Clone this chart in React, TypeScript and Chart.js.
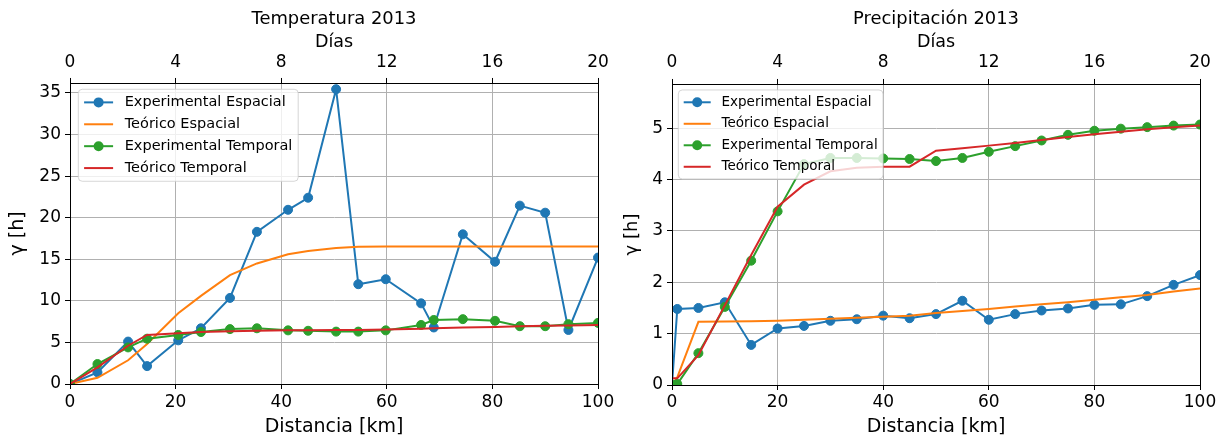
import React, { useEffect, useRef } from 'react';
import { Chart, registerables } from 'chart.js';

Chart.register(...registerables);

const FONT = "'DejaVu Sans', sans-serif";
const C_BLUE = '#1f77b4';
const C_ORANGE = '#ff7f0e';
const C_GREEN = '#2ca02c';
const C_RED = '#d62728';

const seriesLabels = ['Experimental Espacial', 'Teórico Espacial', 'Experimental Temporal', 'Teórico Temporal'];

const distTicks = [0, 20, 40, 60, 80, 100];
const dayTicks = [0, 4, 8, 12, 16, 20];
const tempYTicks = [0, 5, 10, 15, 20, 25, 30, 35];
const precYTicks = [0, 1, 2, 3, 4, 5];

// Temperatura 2013
const tempDist = [0, 5.2, 11, 14.6, 20.5, 24.8, 30.3, 35.4, 41.3, 45.1, 50.4, 54.6, 59.8, 66.5, 68.9, 74.4, 80.5, 85.2, 90, 94.4, 100];
const tempExpEsp = [0, 1.4, 5.1, 2.15, 5.25, 6.7, 10.35, 18.3, 20.95, 22.4, 35.45, 12.0, 12.6, 9.7, 6.8, 18.0, 14.7, 21.45, 20.6, 6.5, 15.2];
const tempTeoEsp = [0, 0.75, 2.85, 4.8, 8.5, 10.6, 13.1, 14.5, 15.6, 16.0, 16.35, 16.5, 16.55, 16.55, 16.55, 16.55, 16.55, 16.55, 16.55, 16.55, 16.55];
const tempExpTemp = [0, 2.4, 4.4, 5.45, 5.9, 6.25, 6.6, 6.7, 6.45, 6.4, 6.3, 6.3, 6.45, 7.1, 7.7, 7.8, 7.6, 6.95, 6.95, 7.2, 7.35];
const tempTeoTemp = [0, 2.0, 4.6, 5.9, 6.1, 6.25, 6.35, 6.4, 6.45, 6.45, 6.5, 6.5, 6.55, 6.65, 6.7, 6.8, 6.85, 6.95, 7.0, 7.05, 7.1];

// Precipitación 2013
const precDist = [0, 1, 5, 10, 15, 20, 25, 30, 35, 40, 45, 50, 55, 60, 65, 70, 75, 80, 85, 90, 95, 100];
const precExpEsp = [0, 1.48, 1.5, 1.61, 0.78, 1.1, 1.15, 1.25, 1.28, 1.35, 1.3, 1.38, 1.64, 1.27, 1.38, 1.45, 1.49, 1.56, 1.57, 1.73, 1.95, 2.14];
const precTeoEsp = [0, 0.15, 1.23, 1.235, 1.24, 1.25, 1.27, 1.29, 1.31, 1.33, 1.35, 1.4, 1.44, 1.48, 1.53, 1.57, 1.61, 1.66, 1.71, 1.75, 1.82, 1.88];
const precExpTemp = [0, 0.02, 0.62, 1.52, 2.42, 3.38, 4.3, 4.42, 4.42, 4.41, 4.4, 4.36, 4.42, 4.54, 4.65, 4.76, 4.87, 4.95, 4.99, 5.02, 5.05, 5.07];
const precTeoTemp = [0.13, 0.13, 0.58, 1.55, 2.53, 3.47, 3.9, 4.16, 4.23, 4.25, 4.25, 4.56, 4.61, 4.66, 4.71, 4.77, 4.83, 4.88, 4.93, 4.98, 5.02, 5.05];

type Panel = {
  title: string;
  xs: number[];
  series: number[][];
  yMax: number;
  yTicks: number[];
  canvasLeft: number;
  canvasWidth: number;
  padRight: number;
  yWidth: number;
  x2Height: number;
  xHeight: number;
  x2TickPad: number;
  xTickPad: number;
  yTitleSize: number;
  yTitlePad: number;
  legend: { font: number; dx: number; dy: number; rowH: number; first: number; boxH: number };
};

const panels: Panel[] = [
  {
    title: 'Temperatura 2013',
    xs: tempDist,
    series: [tempExpEsp, tempTeoEsp, tempExpTemp, tempTeoTemp],
    yMax: 36.2,
    yTicks: tempYTicks,
    canvasLeft: 0,
    canvasWidth: 640,
    padRight: 42,
    yWidth: 70,
    x2Height: 53.2,
    xHeight: 57,
    x2TickPad: 5.4,
    xTickPad: 3.1,
    yTitleSize: 19,
    yTitlePad: 7,
    legend: { font: 14.5, dx: 8.3, dy: 6.3, rowH: 21.9, first: 13.1, boxH: 92 },
  },
  {
    title: 'Precipitación 2013',
    xs: precDist,
    series: [precExpEsp, precTeoEsp, precExpTemp, precTeoTemp],
    yMax: 5.86,
    yTicks: precYTicks,
    canvasLeft: 600,
    canvasWidth: 623,
    padRight: 23,
    yWidth: 72,
    x2Height: 54.2,
    xHeight: 56,
    x2TickPad: 6.4,
    xTickPad: 2.1,
    yTitleSize: 18,
    yTitlePad: 22,
    legend: { font: 13.5, dx: 6.3, dy: 6, rowH: 21.5, first: 12.3, boxH: 89 },
  },
];

const colors = [C_BLUE, C_ORANGE, C_GREEN, C_RED];
const hasMarkers = [true, false, true, false];

function makeOverlay(p: Panel) {
  return {
    id: 'mplOverlay',
    afterDatasetsDraw(chart: any) {
      const { ctx, chartArea: a } = chart;
      ctx.save();
      // spines (aligned with Chart.js axis borders)
      ctx.strokeStyle = '#000';
      ctx.lineWidth = 1;
      const l = Math.round(a.left) + 0.5;
      const r = Math.round(a.right) + 0.5;
      const t = Math.round(a.top) + 0.5;
      const b = Math.round(a.bottom) + 0.5;
      ctx.strokeRect(l, t, r - l, b - t);

      // legend
      const L = p.legend;
      const em = L.font;
      ctx.font = `${em}px ${FONT}`;
      const labels = chart.data.datasets.map((d: any) => d.label as string);
      const tw = Math.max(...labels.map((s: string) => ctx.measureText(s).width));
      const padX = 0.4 * em;
      const handle = 2 * em;
      const textPad = 0.8 * em;
      const bx = a.left + L.dx;
      const by = a.top + L.dy;
      const bw = padX + handle + textPad + tw + padX;
      const bh = L.boxH;
      const rad = 4;
      ctx.beginPath();
      ctx.moveTo(bx + rad, by);
      ctx.lineTo(bx + bw - rad, by);
      ctx.arcTo(bx + bw, by, bx + bw, by + rad, rad);
      ctx.lineTo(bx + bw, by + bh - rad);
      ctx.arcTo(bx + bw, by + bh, bx + bw - rad, by + bh, rad);
      ctx.lineTo(bx + rad, by + bh);
      ctx.arcTo(bx, by + bh, bx, by + bh - rad, rad);
      ctx.lineTo(bx, by + rad);
      ctx.arcTo(bx, by, bx + rad, by, rad);
      ctx.closePath();
      ctx.fillStyle = 'rgba(255,255,255,0.8)';
      ctx.fill();
      ctx.strokeStyle = 'rgba(204,204,204,0.8)';
      ctx.lineWidth = 1;
      ctx.stroke();

      chart.data.datasets.forEach((d: any, i: number) => {
        const cy = by + L.first + i * L.rowH;
        const hx = bx + padX;
        ctx.strokeStyle = d.borderColor;
        ctx.lineWidth = 2;
        ctx.beginPath();
        ctx.moveTo(hx, cy);
        ctx.lineTo(hx + handle, cy);
        ctx.stroke();
        if (d.pointRadius > 0) {
          ctx.fillStyle = d.borderColor;
          ctx.beginPath();
          ctx.arc(hx + handle / 2, cy, d.pointRadius + 0.5, 0, Math.PI * 2);
          ctx.fill();
        }
        ctx.fillStyle = '#000';
        ctx.textBaseline = 'middle';
        ctx.textAlign = 'left';
        ctx.fillText(d.label, hx + handle + textPad, cy);
      });
      ctx.restore();
    },
  };
}

function makeConfig(p: Panel): any {
  const tickFont = { family: FONT, size: 17 };
  const datasets = p.series.map((s, i) => ({
    label: seriesLabels[i],
    data: p.xs.map((x, j) => ({ x, y: s[j] })),
    borderColor: colors[i],
    backgroundColor: colors[i],
    pointBackgroundColor: colors[i],
    pointBorderColor: colors[i],
    pointBorderWidth: 1,
    pointRadius: hasMarkers[i] ? 4.5 : 0,
    borderWidth: 2,
    tension: 0,
    fill: false,
    clip: 0,
    order: 3 - i,
    xAxisID: 'x',
    yAxisID: 'y',
  }));
  return {
    type: 'line',
    data: { datasets },
    options: {
      responsive: false,
      maintainAspectRatio: false,
      animation: false,
      events: [],
      layout: { padding: { left: 0, right: p.padRight, top: 0, bottom: 0 } },
      plugins: {
        legend: { display: false },
        tooltip: { enabled: false },
        title: {
          display: true,
          text: p.title,
          fullSize: false,
          color: '#000',
          font: { family: FONT, size: 17.9, weight: 'normal' },
          padding: { top: 8.3, bottom: 0 },
        },
      },
      scales: {
        x: {
          type: 'linear',
          position: 'bottom',
          min: 0,
          max: 100,
          afterBuildTicks: (s: any) => {
            s.ticks = distTicks.map((v) => ({ value: v }));
          },
          afterFit: (s: any) => {
            s.height = p.xHeight;
            s.paddingLeft = 0;
            s.paddingRight = 0;
          },
          ticks: { font: tickFont, color: '#000', padding: p.xTickPad, maxRotation: 0, autoSkip: false },
          grid: { color: '#b0b0b0', lineWidth: 1, tickLength: 5, tickColor: '#000', tickWidth: 1 },
          border: { display: true, color: '#000', width: 1 },
          title: {
            display: true,
            text: 'Distancia [km]',
            color: '#000',
            font: { family: FONT, size: 19 },
            padding: { top: 0, bottom: 2.9 },
          },
        },
        x2: {
          type: 'linear',
          position: 'top',
          min: 0,
          max: 20,
          afterBuildTicks: (s: any) => {
            s.ticks = dayTicks.map((v) => ({ value: v }));
          },
          afterFit: (s: any) => {
            s.height = p.x2Height;
            s.paddingLeft = 0;
            s.paddingRight = 0;
          },
          ticks: { font: tickFont, color: '#000', padding: p.x2TickPad, maxRotation: 0, autoSkip: false },
          grid: { drawOnChartArea: false, color: '#000', tickLength: 5, tickColor: '#000', tickWidth: 1 },
          border: { display: false },
          title: {
            display: true,
            text: 'Días',
            color: '#000',
            font: { family: FONT, size: 17.5 },
            padding: { top: 1.7, bottom: 0 },
          },
        },
        y: {
          type: 'linear',
          position: 'left',
          min: 0,
          max: p.yMax,
          afterBuildTicks: (s: any) => {
            s.ticks = p.yTicks.map((v) => ({ value: v }));
          },
          afterFit: (s: any) => {
            s.width = p.yWidth;
            s.paddingTop = 0;
            s.paddingBottom = 0;
          },
          ticks: { font: tickFont, color: '#000', padding: 4, autoSkip: false },
          grid: { color: '#b0b0b0', lineWidth: 1, tickLength: 5, tickColor: '#000', tickWidth: 1 },
          border: { display: true, color: '#000', width: 1 },
          title: {
            display: true,
            text: 'γ [h]',
            color: '#000',
            font: { family: FONT, size: p.yTitleSize },
            padding: { top: p.yTitlePad, bottom: 0 },
          },
        },
      },
    },
    plugins: [makeOverlay(p)],
  };
}

function PanelChart({ p }: { p: Panel }) {
  const ref = useRef<HTMLCanvasElement>(null);
  useEffect(() => {
    if (!ref.current) return;
    const chart = new Chart(ref.current, makeConfig(p));
    return () => chart.destroy();
  }, [p]);
  return (
    <canvas
      ref={ref}
      width={p.canvasWidth}
      height={441}
      style={{ position: 'absolute', left: p.canvasLeft, top: 0, width: p.canvasWidth, height: 441 }}
    />
  );
}

export default function App() {
  return (
    <div style={{ position: 'absolute', left: 0, top: 0, width: 1223, height: 441, background: '#fff' }}>
      {panels.map((p, i) => (
        <PanelChart key={i} p={p} />
      ))}
    </div>
  );
}
